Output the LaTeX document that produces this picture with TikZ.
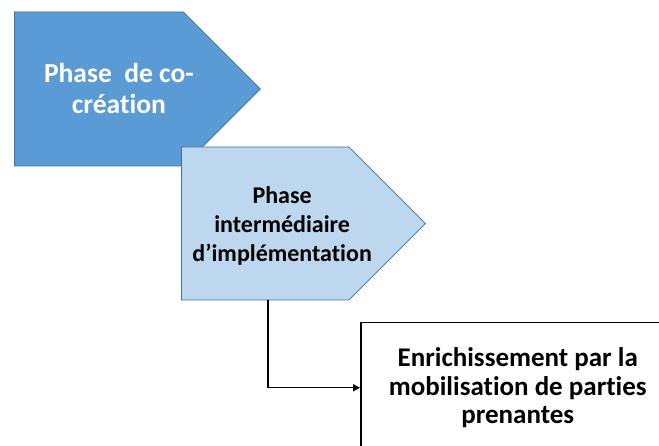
\documentclass[tikz,border=0pt]{standalone}
\usepackage{fontspec}
\setmainfont{Carlito}[Ligatures=NoCommon]
\usetikzlibrary{arrows.meta,positioning,shapes.symbols}
\definecolor{darkphase}{HTML}{5B9BD5}
\definecolor{lightphase}{HTML}{BDD7EE}
\definecolor{phaseline}{HTML}{41719C}
% text block pushed right (and a little down) inside the arrow body
\newcommand{\phasetext}[2]{\raisebox{-3pt}[\height][\depth]{\begin{tabular}{@{}c@{\hspace{-#1}}}#2\end{tabular}}}

\begin{document}
\begin{tikzpicture}[x=1pt,y=1pt,
  phase/.style={signal, signal to=east, signal pointer angle=90, draw=phaseline,
    line width=0.8pt, anchor=west, inner sep=0pt}]
\useasboundingbox (0,0) rectangle (659,446);
\node (CC) [phase, fill=darkphase, text=white, minimum width=246pt, minimum height=154pt,
  font=\bfseries\fontsize{27.5}{31}\selectfont] at (14,357) {\phasetext{40pt}{Phase\ \ de co-\\création}};
\node (IMP) [phase, fill=lightphase, minimum width=244pt, minimum height=153pt,
  font=\bfseries\fontsize{24}{29}\selectfont] at (181,222.5) {\phasetext{34pt}{Phase\\intermédiaire\\d’implémentation}};
\node (EPP) [draw=black, line width=1.5pt, fill=white, align=center, anchor=north west,
  minimum width=314pt, minimum height=130pt,
  font=\bfseries\fontsize{27}{28.5}\selectfont] at (360,124) {Enrichissement par la\\mobilisation de parties\\prenantes};

\draw[-{Triangle[length=7pt,width=7pt]}, line width=1.3pt] ([shift={(87pt,-76.5pt)}]IMP.west) |- (EPP.west);
\end{tikzpicture}
\end{document}
